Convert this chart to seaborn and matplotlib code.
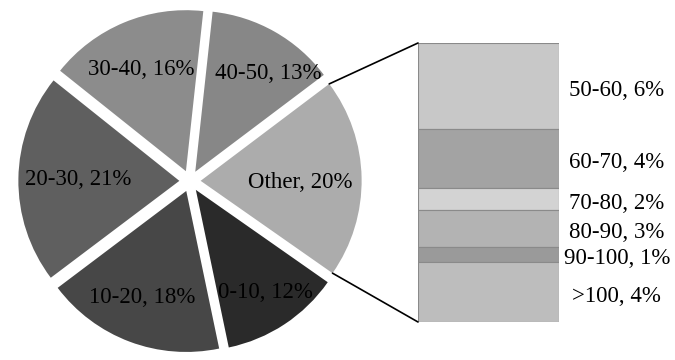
import matplotlib
matplotlib.use("Agg")
import math
import matplotlib.pyplot as plt
import seaborn as sns
from matplotlib.patches import ConnectionPatch

# ---- data ----
pie_labels = ["0-10", "10-20", "20-30", "30-40", "40-50", "Other"]
pie_values = [12, 18, 21, 16, 13, 20]
pie_colors = ["#2a2a2a", "#474747", "#5f5f5f", "#8c8c8c", "#878787", "#acacac"]

bar_labels = ["50-60", "60-70", "70-80", "80-90", "90-100", ">100"]
bar_values = [6.2, 4.2, 1.6, 2.6, 1.1, 4.3]
bar_pct = [6, 4, 2, 3, 1, 4]
bar_colors = ["#c8c8c8", "#a3a3a3", "#d3d3d3", "#b3b3b3", "#9a9a9a", "#bdbdbd"]

# label placement for each pie label: fraction of radius, angular nudge (deg)
label_dist = [0.77, 0.72, 0.63, 0.69, 0.76, 0.62]
label_turn = [1, -2, 0, 1, -7, -2]

sns.set_theme(style="white")
plt.rcParams["font.family"] = ["Liberation Serif", "DejaVu Serif"]

W, H = 675, 360
fig = plt.figure(figsize=(W / 100, H / 100), dpi=100)
fig.patch.set_facecolor("white")

# ---- pie ----
R = 161
ax1 = fig.add_axes([0, 0, 1, 1])
pie_text = [f"{l}, {v}%" for l, v in zip(pie_labels, pie_values)]
wedges, texts = ax1.pie(
    pie_values,
    labels=pie_text,
    colors=pie_colors,
    explode=[0.066 * R] * len(pie_values),
    startangle=-35,
    counterclock=False,
    radius=R,
    center=(190, H - 181),
    labeldistance=0.7,
    wedgeprops=dict(linewidth=0),
    textprops=dict(fontsize=16.5, color="black", ha="center", va="center"),
)
for w, t, d, a in zip(wedges, texts, label_dist, label_turn):
    th = math.radians((w.theta1 + w.theta2) / 2 + a)
    cx, cy = w.center
    t.set_position((cx + d * w.r * math.cos(th), cy + d * w.r * math.sin(th)))
ax1.set_xlim(0, W)
ax1.set_ylim(0, H)
ax1.set_aspect("equal")
ax1.axis("off")

# ---- bar of pie ----
bar_left, bar_right, bar_top, bar_bottom = 418, 559, 43, 322
ax2 = fig.add_axes([bar_left / W, (H - bar_bottom) / H,
                    (bar_right - bar_left) / W, (bar_bottom - bar_top) / H])
total = sum(bar_values)
bottom = 0.0
for lab, v, p, c in zip(bar_labels, bar_values, bar_pct, bar_colors):
    ax2.bar(0.5, v, bottom=bottom, width=1.0, color=c,
            edgecolor="#8a8a8a", linewidth=0.8)
    ax2.annotate(f"{lab}, {p}%", xy=(1.41, bottom + v / 2), xytext=(0, -3),
                 textcoords="offset points", ha="center", va="center",
                 fontsize=16.5, color="black", annotation_clip=False)
    bottom += v
ax2.set_xlim(0, 1)
ax2.set_ylim(total, 0)
ax2.axis("off")

# ---- connector lines ----
w = wedges[-1]
cx, cy = w.center
r = w.r
upper = (cx + r * math.cos(math.radians(w.theta2)), cy + r * math.sin(math.radians(w.theta2)))
lower = (cx + r * math.cos(math.radians(w.theta1)), cy + r * math.sin(math.radians(w.theta1)))
for pA, pB in [(upper, (0, 0)), (lower, (0, total))]:
    con = ConnectionPatch(xyA=pA, coordsA=ax1.transData, xyB=pB, coordsB=ax2.transData,
                          color="black", linewidth=1.2)
    fig.add_artist(con)

fig.savefig("out.png", dpi=100, facecolor="white")
